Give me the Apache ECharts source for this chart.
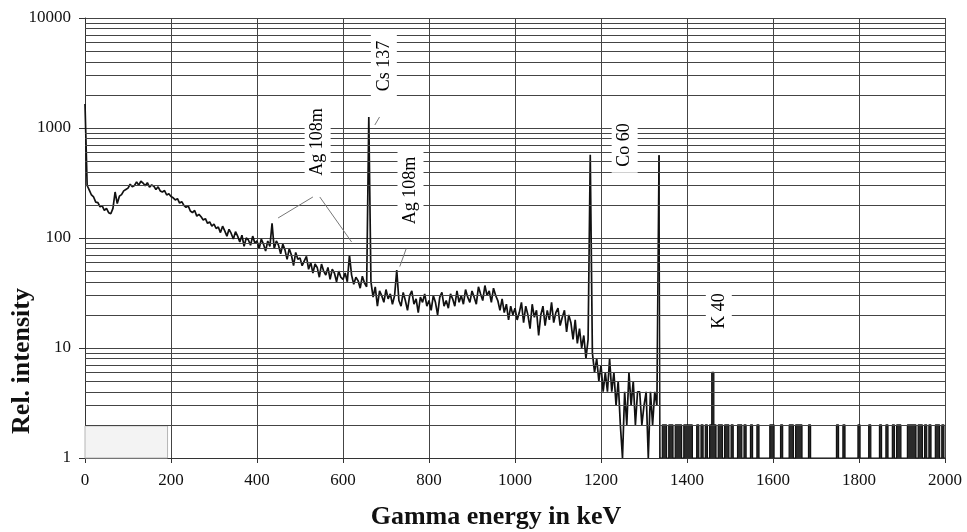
<!DOCTYPE html>
<html>
<head>
<meta charset="utf-8">
<title>Gamma spectrum</title>
<script src="https://cdn.jsdelivr.net/npm/echarts@6/dist/echarts.min.js"></script>
<style>
  html, body { margin: 0; padding: 0; background: #fff; }
  #chart { width: 967px; height: 532px; }
</style>
</head>
<body>
<div id="chart"></div>
<script>
// one value every 5 keV
const binWidth = 5

// 0 - 495 keV
const lowEnergy = [
  1650, 300, 272, 246, 236, 212, 210, 192, 196, 178, 186, 170, 166, 186, 262, 206, 240, 248, 268, 276,
  284, 308, 292, 300, 324, 302, 328, 316, 298, 318, 290, 304, 296, 276, 292, 268, 262, 270, 246, 252,
  238, 232, 222, 228, 208, 214, 198, 190, 196, 176, 170, 178, 158, 164, 156, 146, 150, 136, 140, 128,
  134, 122, 126, 112, 128, 116, 104, 120, 110, 98, 114, 104, 92, 106, 84, 100, 96, 86, 104, 90,
  94, 80, 98, 88, 76, 94, 84, 136, 80, 94, 86, 72, 88, 78, 64, 80, 70, 56, 74, 64
]
// 500 - 995 keV
const midEnergy = [
  66, 56, 62, 68, 52, 60, 48, 58, 54, 44, 58, 50, 46, 54, 42, 52, 48, 40, 50, 44,
  42, 48, 40, 70, 46, 38, 44, 41, 35, 45, 39, 36, 1260, 40, 29, 36, 24, 33, 30, 26,
  34, 28, 31, 25, 30, 51, 27, 24, 32, 27, 22, 30, 33, 25, 28, 21, 29, 26, 31, 24,
  27, 22, 30, 26, 20, 29, 32, 24, 27, 23, 31, 28, 24, 33, 26, 30, 25, 34, 29, 26,
  33, 29, 25, 36, 31, 27, 37, 30, 33, 26, 35, 30, 27, 22, 28, 21, 25, 18, 24, 20
]
// 1000 - 1495 keV
const highEnergy = [
  23, 18, 21, 26, 17, 24, 20, 15, 25, 19, 22, 13, 20, 24, 16, 22, 18, 26, 17, 21,
  23, 16, 19, 22, 14, 20, 17, 12, 18, 11, 15, 10, 13, 8, 12, 570, 9, 6, 8, 5,
  7, 4, 6, 4, 8, 4, 6, 3, 5, 2, 1, 4, 2, 6, 3, 5, 2, 4, 4, 2,
  3, 4, 1, 4, 2, 4, 3, 565, 1, 2, 2, 1, 2, 2, 1, 2, 2, 2, 1, 2,
  2, 2, 2, 1, 1, 2, 1, 2, 1, 2, 1, 2, 6, 2, 1, 2, 2, 1, 2, 2
]
// 1500 - 2000 keV
const tail = [
  1, 2, 1, 1, 2, 2, 1, 2, 1, 1, 2, 1, 1, 2, 1, 1, 1, 1, 1, 2,
  2, 1, 1, 1, 2, 1, 1, 1, 2, 2, 1, 2, 2, 2, 1, 1, 1, 2, 1, 1,
  1, 1, 1, 1, 1, 1, 1, 1, 1, 1, 2, 1, 1, 2, 1, 1, 1, 1, 1, 1,
  2, 1, 1, 1, 1, 2, 1, 1, 1, 1, 2, 1, 1, 2, 1, 1, 2, 1, 2, 2,
  1, 1, 1, 2, 2, 2, 2, 1, 2, 2, 1, 2, 1, 2, 1, 1, 2, 2, 1, 2, 1
]

// above this energy only single counts are left, drawn as a histogram
const histogramFrom = 1335

// horizontal rulings between the decades
const minorLevels = [
  2, 3, 4, 5, 6, 7, 8, 9,
  20, 30, 40, 50, 60, 70, 80, 90,
  200, 300, 400, 500, 600, 700, 800, 900,
  2000, 3000, 4000, 5000, 6000, 7000, 8000, 9000
]

// nuclide names, [energy, intensity] where the text sits
const nuclideNames = ['Ag 108m', 'Cs 137', 'Ag 108m', 'Co 60', 'K 40']
const nuclideSpots = [[541, 745], [695, 3660], [757, 270], [1255, 700], [1474, 21.7]]

// thin pointer lines from the names to the peaks
const pointers = [
  [[449, 152], [530, 236]],
  [[546, 236], [620, 92]],
  [[674, 1065], [685, 1260]],
  [[747, 80], [732, 55]]
]

const FONT = 'Liberation Serif'
const GRID_COLOR = '#444'

const spectrum = lowEnergy.concat(midEnergy, highEnergy, tail).map(function(v, i) {
  return [i * binWidth, v]
})
const continuum = spectrum.filter(function(p) { return p[0] <= histogramFrom })
const sparse = spectrum.filter(function(p) { return p[0] >= histogramFrom })

const myChart = echarts.init(document.getElementById('chart'))

const options = {
  animation: false,
  grid: {
    left: 85,
    right: 22,
    top: 18,
    bottom: 74
  },
  xAxis: {
    type: 'value',
    min: 0,
    max: 2000,
    interval: 200,
    axisLine: { lineStyle: { color: '#333' } },
    axisTick: { length: 5, lineStyle: { color: '#333' } },
    axisLabel: {
      margin: 14,
      fontFamily: FONT,
      fontSize: 17,
      color: '#111',
      formatter: function(v) { return String(v) }
    },
    splitLine: { show: true, lineStyle: { color: GRID_COLOR, width: 1 } }
  },
  yAxis: {
    type: 'log',
    logBase: 10,
    min: 1,
    max: 10000,
    axisLine: { show: true, lineStyle: { color: '#333' } },
    axisTick: { show: true, length: 6, lineStyle: { color: '#333' } },
    axisLabel: {
      margin: 14,
      fontFamily: FONT,
      fontSize: 17,
      color: '#111',
      formatter: function(v) { return String(Math.round(v)) }
    },
    splitLine: { show: true, lineStyle: { color: GRID_COLOR, width: 1 } }
  },
  graphic: [
    {
      type: 'text',
      x: 496,
      y: 517,
      style: {
        text: 'Gamma energy in keV',
        font: 'bold 26px "Liberation Serif"',
        fill: '#111',
        textAlign: 'center',
        textVerticalAlign: 'middle'
      }
    },
    {
      type: 'text',
      x: 22,
      y: 361,
      rotation: Math.PI / 2,
      style: {
        text: 'Rel. intensity',
        font: 'bold 26px "Liberation Serif"',
        fill: '#111',
        textAlign: 'center',
        textVerticalAlign: 'middle'
      }
    }
  ],
  series: [
    {
      // decade subdivisions
      type: 'line',
      data: [],
      silent: true,
      z: 1,
      markLine: {
        silent: true,
        symbol: ['none', 'none'],
        label: { show: false },
        lineStyle: { color: GRID_COLOR, width: 1, type: 'solid' },
        data: minorLevels.map(function(v) { return { yAxis: v } })
      },
      markArea: {
        silent: true,
        itemStyle: { color: '#f3f3f3', borderColor: '#b5b5b5', borderWidth: 1 },
        data: [[{ coord: [0, 1] }, { coord: [192, 1.96] }]]
      }
    },
    {
      name: 'spectrum',
      type: 'line',
      data: continuum,
      showSymbol: false,
      z: 3,
      lineStyle: { color: '#111', width: 1.7 }
    },
    {
      name: 'spectrum tail',
      type: 'line',
      data: sparse,
      step: 'middle',
      showSymbol: false,
      z: 3,
      lineStyle: { color: '#111', width: 1.2 },
      areaStyle: { color: '#2a2a2a', opacity: 1, origin: 'start' }
    },
    {
      name: 'nuclides',
      type: 'scatter',
      symbolSize: 0,
      z: 5,
      itemStyle: { opacity: 1, color: 'rgba(0,0,0,0)' },
      data: nuclideSpots.map(function(p, i) {
        return { value: p, name: nuclideNames[i] }
      }),
      label: {
        show: true,
        position: 'inside',
        rotate: 90,
        formatter: '{b}',
        fontFamily: FONT,
        fontSize: 18,
        color: '#000',
        opacity: 1,
        backgroundColor: '#fff',
        padding: [4, 6, 4, 6]
      },
      markLine: {
        silent: true,
        symbol: ['none', 'none'],
        label: { show: false },
        lineStyle: { color: '#777', width: 1, type: 'solid' },
        data: pointers.map(function(seg) {
          return [{ coord: seg[0] }, { coord: seg[1] }]
        })
      }
    }
  ]
}

myChart.setOption(options)
</script>
</body>
</html>
